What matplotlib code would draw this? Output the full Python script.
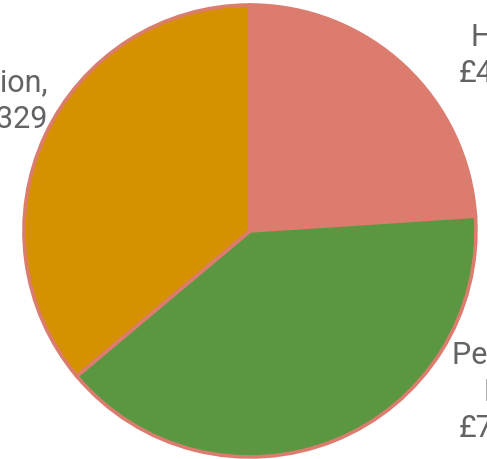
import matplotlib
matplotlib.use("Agg")
import matplotlib.pyplot as plt

# ---- data ----
categories = ["Heat", "Petrol &\nEV", "Education"]
values = [4200, 7000, 6329]
colors = ["#DB7C6F", "#5B9740", "#D59100"]

# ---- layout constants ----
W, H, DPI = 487, 459, 100
label_xy = [(1.13, 0.78), (1.13, -0.71), (-0.895, 0.575)]
label_ha = ["center", "center", "right"]

fig = plt.figure(figsize=(W / DPI, H / DPI), dpi=DPI)
ax = fig.add_axes([0, 0, 1, 1])
ax.pie(values, colors=colors, startangle=90, counterclock=False, radius=1,
       wedgeprops=dict(edgecolor="#DB7C6F", linewidth=2.6))
ax.set_xlim(-1.106, 1.049)
ax.set_ylim(-1.009, 1.022)
ax.set_aspect("equal", adjustable="box")
ax.axis("off")

for cat, val, (x, y), ha in zip(categories, values, label_xy, label_ha):
    ax.text(x, y, f"{cat},\n£{val:,}", ha=ha, va="center", multialignment=ha,
            fontsize=22, family=["Roboto", "DejaVu Sans"],
            color="#636363", linespacing=1.3, clip_on=False)

fig.savefig("out.png", dpi=DPI)
